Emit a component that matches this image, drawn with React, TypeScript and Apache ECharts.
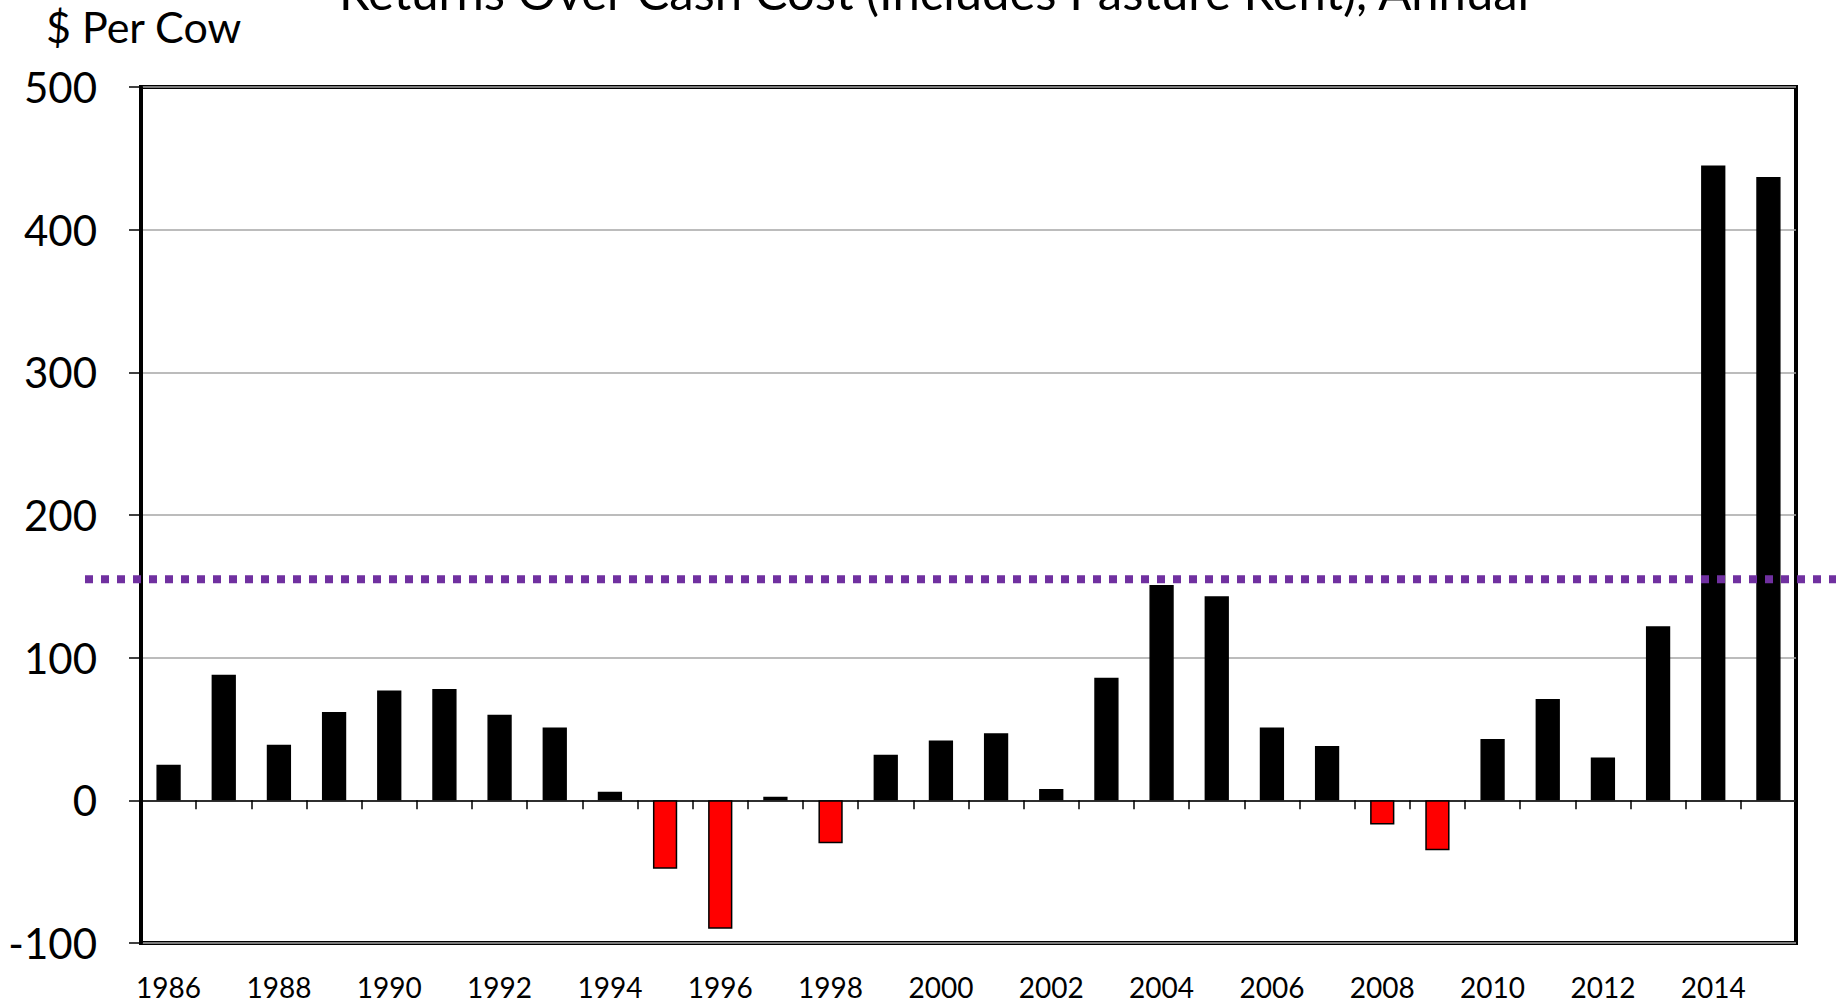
import React, { useEffect, useRef } from "react";
import * as echarts from "echarts";

const years = [
  "1986", "1987", "1988", "1989", "1990", "1991", "1992", "1993", "1994", "1995",
  "1996", "1997", "1998", "1999", "2000", "2001", "2002", "2003", "2004", "2005",
  "2006", "2007", "2008", "2009", "2010", "2011", "2012", "2013", "2014", "2015",
];
const returnsPerCow = [
  25, 88, 39, 62, 77, 78, 60, 51, 6, -48,
  -90, 2.5, -30, 32, 42, 47, 8, 86, 151, 143,
  51, 38, -17, -35, 43, 71, 30, 122, 445, 437,
];
const averageReturn = 155;
const yMin = -100;
const yMax = 500;
const yStep = 100;
const titleText = "Returns Over Cash Cost (Includes Pasture Rent), Annual";
const unitText = "$ Per Cow";

const FONT = "Lato";

export default function App() {
  const ref = useRef<HTMLDivElement>(null);

  useEffect(() => {
    if (!ref.current) return;
    const chart = echarts.init(ref.current, undefined, { renderer: "svg" });
    const option: any = {
      animation: false,
      backgroundColor: "#ffffff",
      grid: {
        left: 141,
        right: 40,
        top: 87,
        bottom: 54,
        show: true,
        borderColor: "#000000",
        borderWidth: 4,
        backgroundColor: "transparent",
        containLabel: false,
      },
      xAxis: [
        {
          type: "category",
          data: years,
          position: "bottom",
          axisLine: { show: false, onZero: false },
          axisTick: { show: false },
          axisLabel: {
            interval: 1,
            fontFamily: FONT,
            fontSize: 28,
            lineHeight: 18,
            color: "#000000",
            margin: 35,
          },
          splitLine: { show: false },
        },
        {
          type: "category",
          data: years,
          position: "bottom",
          axisLine: { show: true, onZero: true, onZeroAxisIndex: 0, lineStyle: { color: "#000000", width: 1.5 } },
          axisTick: { show: true, interval: 0, length: 9, alignWithLabel: false, lineStyle: { color: "#000000", width: 1.5 } },
          axisLabel: { show: false },
          splitLine: { show: false },
        },
      ],
      yAxis: {
        type: "value",
        min: yMin,
        max: yMax,
        interval: yStep,
        axisLine: { show: true, lineStyle: { color: "#000000", width: 4 } },
        axisTick: { show: true, length: 12, lineStyle: { color: "#000000", width: 1.5 } },
        axisLabel: {
          fontFamily: FONT,
          fontSize: 42,
          color: "#000000",
          margin: 44,
        },
        splitLine: { show: true, lineStyle: { color: "#a6a6a6", width: 1.5 } },
      },
      series: [
        {
          type: "bar",
          xAxisIndex: 0,
          yAxisIndex: 0,
          barWidth: "44%",
          data: returnsPerCow.map((v) => ({
            value: v,
            itemStyle: {
              color: v < 0 ? "#ff0000" : "#000000",
              borderColor: "#000000",
              borderWidth: 1.5,
            },
          })),
        },
      ],
    };
    chart.setOption(option);

    const avgY = chart.convertToPixel({ yAxisIndex: 0 }, averageReturn) as number;
    chart.setOption({
      graphic: [
        {
          type: "text",
          id: "title",
          x: 934,
          y: -9,
          z: 100,
          style: {
            text: titleText,
            fontFamily: FONT,
            fontSize: 49,
            fill: "#000000",
            align: "center",
            verticalAlign: "middle",
          },
        },
        {
          type: "text",
          id: "unit",
          x: 46,
          y: 5,
          z: 100,
          style: {
            text: unitText,
            fontFamily: FONT,
            fontSize: 43,
            fill: "#000000",
            align: "left",
            verticalAlign: "top",
          },
        },
        {
          type: "line",
          id: "avg",
          z: 100,
          shape: { x1: 85, y1: avgY, x2: 1836, y2: avgY },
          style: { stroke: "#7030a0", lineWidth: 8, lineDash: [8, 8] },
        },
      ],
    });

    return () => chart.dispose();
  }, []);

  return (
    <div
      ref={ref}
      style={{ position: "absolute", left: 0, top: 0, width: 1836, height: 1001 }}
    />
  );
}
